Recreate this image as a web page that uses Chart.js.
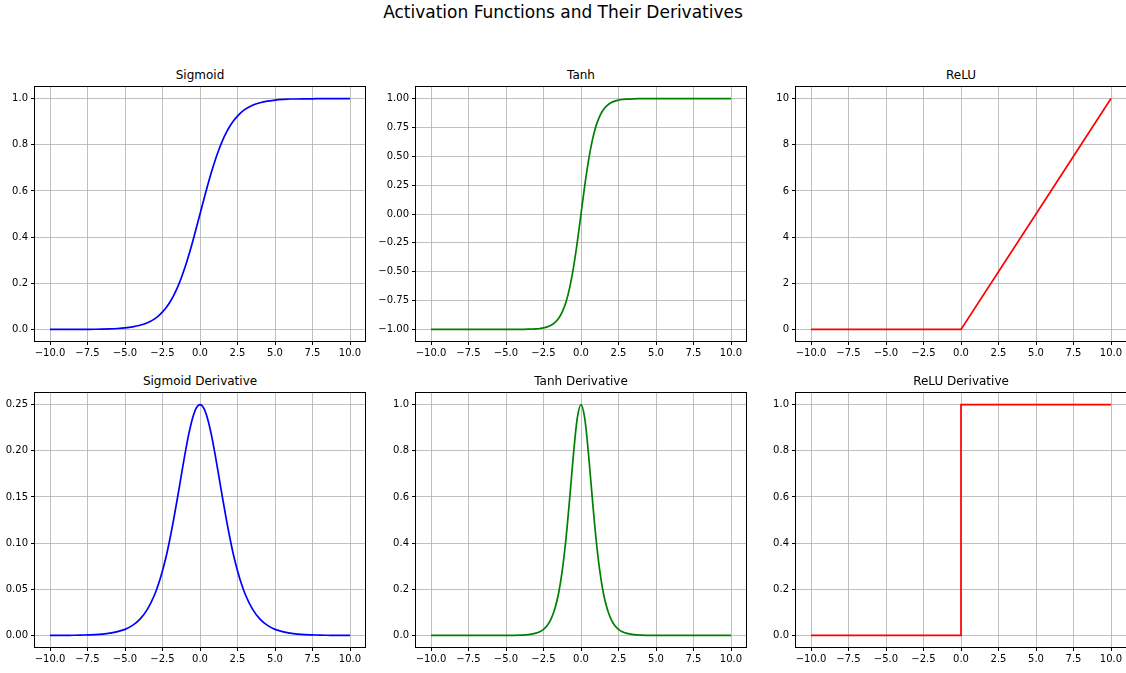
<!DOCTYPE html>
<html>
<head>
<meta charset="utf-8">
<title>Activation Functions and Their Derivatives</title>
<script src="https://cdn.jsdelivr.net/npm/chart.js@4.4.1/dist/chart.umd.min.js"></script>
<style>
  html, body { margin: 0; padding: 0; background: #fff; }
  body { width: 1126px; height: 673px; position: relative; overflow: hidden; font-family: "DejaVu Sans", sans-serif; color: #000; }
  .suptitle { position: absolute; left: 0; width: 1126px; top: 1px; text-align: center; font-size: 17px; line-height: 22px; }
  .ax-title { position: absolute; text-align: center; font-size: 12px; line-height: 14px; }
  canvas { position: absolute; }
</style>
</head>
<body>
<div class="suptitle">Activation Functions and Their Derivatives</div>
<div id="panels"></div>

<script>
/* ── Data ── */
const xs = [-10, -9.5, -9, -8.5, -8, -7.5, -7, -6.5, -6, -5.5, -5, -4.5, -4, -3.5,
  -3, -2.75, -2.5, -2.25, -2, -1.75, -1.5, -1.25, -1, -0.75, -0.5, -0.25,
  0, 0.25, 0.5, 0.75, 1, 1.25, 1.5, 1.75, 2, 2.25, 2.5, 2.75, 3,
  3.5, 4, 4.5, 5, 5.5, 6, 6.5, 7, 7.5, 8, 8.5, 9, 9.5, 10];

const sigmoidY = [0.0000, 0.0001, 0.0001, 0.0002, 0.0003, 0.0006, 0.0009, 0.0015, 0.0025, 0.0041, 0.0067, 0.011, 0.018, 0.029,
  0.047, 0.060, 0.076, 0.095, 0.119, 0.148, 0.182, 0.223, 0.269, 0.321, 0.378, 0.438,
  0.500, 0.562, 0.622, 0.679, 0.731, 0.777, 0.818, 0.852, 0.881, 0.905, 0.924, 0.940, 0.953,
  0.971, 0.982, 0.989, 0.993, 0.996, 0.998, 0.998, 0.999, 0.999, 1.000, 1.000, 1.000, 1.000, 1.000];

const tanhY = [-1.000, -1.000, -1.000, -1.000, -1.000, -1.000, -1.000, -1.000, -1.000, -1.000, -1.000, -1.000, -0.999, -0.998,
  -0.995, -0.992, -0.987, -0.978, -0.964, -0.941, -0.905, -0.848, -0.762, -0.635, -0.462, -0.245,
  0.000, 0.245, 0.462, 0.635, 0.762, 0.848, 0.905, 0.941, 0.964, 0.978, 0.987, 0.992, 0.995,
  0.998, 0.999, 1.000, 1.000, 1.000, 1.000, 1.000, 1.000, 1.000, 1.000, 1.000, 1.000, 1.000, 1.000];

const reluX = [-10, -5, 0, 5, 10];
const reluY = [0, 0, 0, 5, 10];

const sigmoidDY = [0.0000, 0.0001, 0.0001, 0.0002, 0.0003, 0.0006, 0.0009, 0.0015, 0.0025, 0.0041, 0.0066, 0.0109, 0.0177, 0.0285,
  0.0452, 0.0564, 0.0701, 0.0860, 0.1050, 0.1262, 0.1491, 0.1731, 0.1966, 0.2179, 0.2350, 0.2461,
  0.2500, 0.2461, 0.2350, 0.2179, 0.1966, 0.1731, 0.1491, 0.1262, 0.1050, 0.0860, 0.0701, 0.0564, 0.0452,
  0.0285, 0.0177, 0.0109, 0.0066, 0.0041, 0.0025, 0.0015, 0.0009, 0.0006, 0.0003, 0.0002, 0.0001, 0.0001, 0.0000];

const tanhDY = [0.000, 0.000, 0.000, 0.000, 0.000, 0.000, 0.000, 0.000, 0.000, 0.000, 0.0002, 0.0005, 0.0013, 0.0036,
  0.0099, 0.0163, 0.0266, 0.0433, 0.0707, 0.1143, 0.1807, 0.2809, 0.4200, 0.5966, 0.7864, 0.9400,
  1.000, 0.9400, 0.7864, 0.5966, 0.4200, 0.2809, 0.1807, 0.1143, 0.0707, 0.0433, 0.0266, 0.0163, 0.0099,
  0.0036, 0.0013, 0.0005, 0.0002, 0.000, 0.000, 0.000, 0.000, 0.000, 0.000, 0.000, 0.000, 0.000, 0.000];

const reluDX = [-10, -5, 0, 0, 5, 10];
const reluDY = [0, 0, 0, 1, 1, 1];

const xTicks = [-10, -7.5, -5, -2.5, 0, 2.5, 5, 7.5, 10];
const sigmoidTicks = [0, 0.2, 0.4, 0.6, 0.8, 1.0];
const tanhTicks = [-1, -0.75, -0.5, -0.25, 0, 0.25, 0.5, 0.75, 1];
const reluTicks = [0, 2, 4, 6, 8, 10];
const sigmoidDTicks = [0, 0.05, 0.1, 0.15, 0.2, 0.25];
const unitTicks = [0, 0.2, 0.4, 0.6, 0.8, 1.0];

/* ── Layout ── */
const COLS = [35, 416, 796];
const ROWS = [87, 393];
const AX_W = 330;
const AX_H = 254;
const Y_AXIS_W = 40;
const X_AXIS_H = 24;
const PAD = 14;

const fmt = (v, d) => v.toFixed(d).replace("-", "\u2212");

const panels = [
  { title: "Sigmoid", col: 0, row: 0, x: xs, y: sigmoidY, color: "#0000ff", yMin: -0.05, yMax: 1.05, ticks: sigmoidTicks, dec: 1, smooth: true },
  { title: "Tanh", col: 1, row: 0, x: xs, y: tanhY, color: "#008000", yMin: -1.1, yMax: 1.1, ticks: tanhTicks, dec: 2, smooth: true },
  { title: "ReLU", col: 2, row: 0, x: reluX, y: reluY, color: "#ff0000", yMin: -0.5, yMax: 10.5, ticks: reluTicks, dec: 0, smooth: false },
  { title: "Sigmoid Derivative", col: 0, row: 1, x: xs, y: sigmoidDY, color: "#0000ff", yMin: -0.0125, yMax: 0.2625, ticks: sigmoidDTicks, dec: 2, smooth: true },
  { title: "Tanh Derivative", col: 1, row: 1, x: xs, y: tanhDY, color: "#008000", yMin: -0.05, yMax: 1.05, ticks: unitTicks, dec: 1, smooth: true },
  { title: "ReLU Derivative", col: 2, row: 1, x: reluDX, y: reluDY, color: "#ff0000", yMin: -0.05, yMax: 1.05, ticks: unitTicks, dec: 1, smooth: false },
];

/* ── Full box around the plot area, like matplotlib spines ── */
const boxPlugin = {
  id: "box",
  afterDraw(chart) {
    const { ctx, chartArea: a } = chart;
    ctx.save();
    ctx.strokeStyle = "#000";
    ctx.lineWidth = 1;
    ctx.strokeRect(a.left - 0.5, a.top - 0.5, a.right - a.left + 1, a.bottom - a.top + 1);
    ctx.restore();
  },
};

const tickFont = { family: "'DejaVu Sans', sans-serif", size: 10 };

function makePanel(p) {
  const host = document.getElementById("panels");
  const left = COLS[p.col];
  const top = ROWS[p.row];

  const title = document.createElement("div");
  title.className = "ax-title";
  title.style.left = left + "px";
  title.style.width = AX_W + "px";
  title.style.top = top - 19 + "px";
  title.textContent = p.title;
  host.appendChild(title);

  const canvas = document.createElement("canvas");
  const w = Y_AXIS_W + AX_W + PAD;
  const h = PAD + AX_H + X_AXIS_H;
  canvas.width = w;
  canvas.height = h;
  canvas.style.width = w + "px";
  canvas.style.height = h + "px";
  canvas.style.left = left - Y_AXIS_W + "px";
  canvas.style.top = top - PAD + "px";
  host.appendChild(canvas);

  new Chart(canvas.getContext("2d"), {
    type: "line",
    data: {
      datasets: [
        {
          data: p.x.map((x, i) => ({ x, y: p.y[i] })),
          borderColor: p.color,
          borderWidth: 1.7,
          pointRadius: 0,
          fill: false,
          cubicInterpolationMode: p.smooth ? "monotone" : "default",
          tension: 0,
        },
      ],
    },
    options: {
      responsive: false,
      devicePixelRatio: 1,
      animation: false,
      layout: { padding: { left: 0, top: PAD, right: PAD, bottom: 0 } },
      plugins: { legend: { display: false }, tooltip: { enabled: false } },
      scales: {
        x: {
          type: "linear",
          min: -11,
          max: 11,
          afterBuildTicks: (s) => { s.ticks = xTicks.map((v) => ({ value: v })); },
          afterFit: (s) => { s.height = X_AXIS_H; },
          grid: { color: "#b0b0b0", lineWidth: 0.8, tickColor: "#000", tickLength: 4, tickWidth: 1 },
          border: { display: false },
          ticks: { font: tickFont, color: "#000", padding: 2, maxRotation: 0, autoSkip: false, callback: (v) => fmt(v, 1) },
        },
        y: {
          type: "linear",
          min: p.yMin,
          max: p.yMax,
          afterBuildTicks: (s) => { s.ticks = p.ticks.map((v) => ({ value: v })); },
          afterFit: (s) => { s.width = Y_AXIS_W; },
          grid: { color: "#b0b0b0", lineWidth: 0.8, tickColor: "#000", tickLength: 4, tickWidth: 1 },
          border: { display: false },
          ticks: { font: tickFont, color: "#000", padding: 3, autoSkip: false, callback: (v) => fmt(v, p.dec) },
        },
      },
    },
    plugins: [boxPlugin],
  });
}

panels.forEach(makePanel);
</script>
</body>
</html>
